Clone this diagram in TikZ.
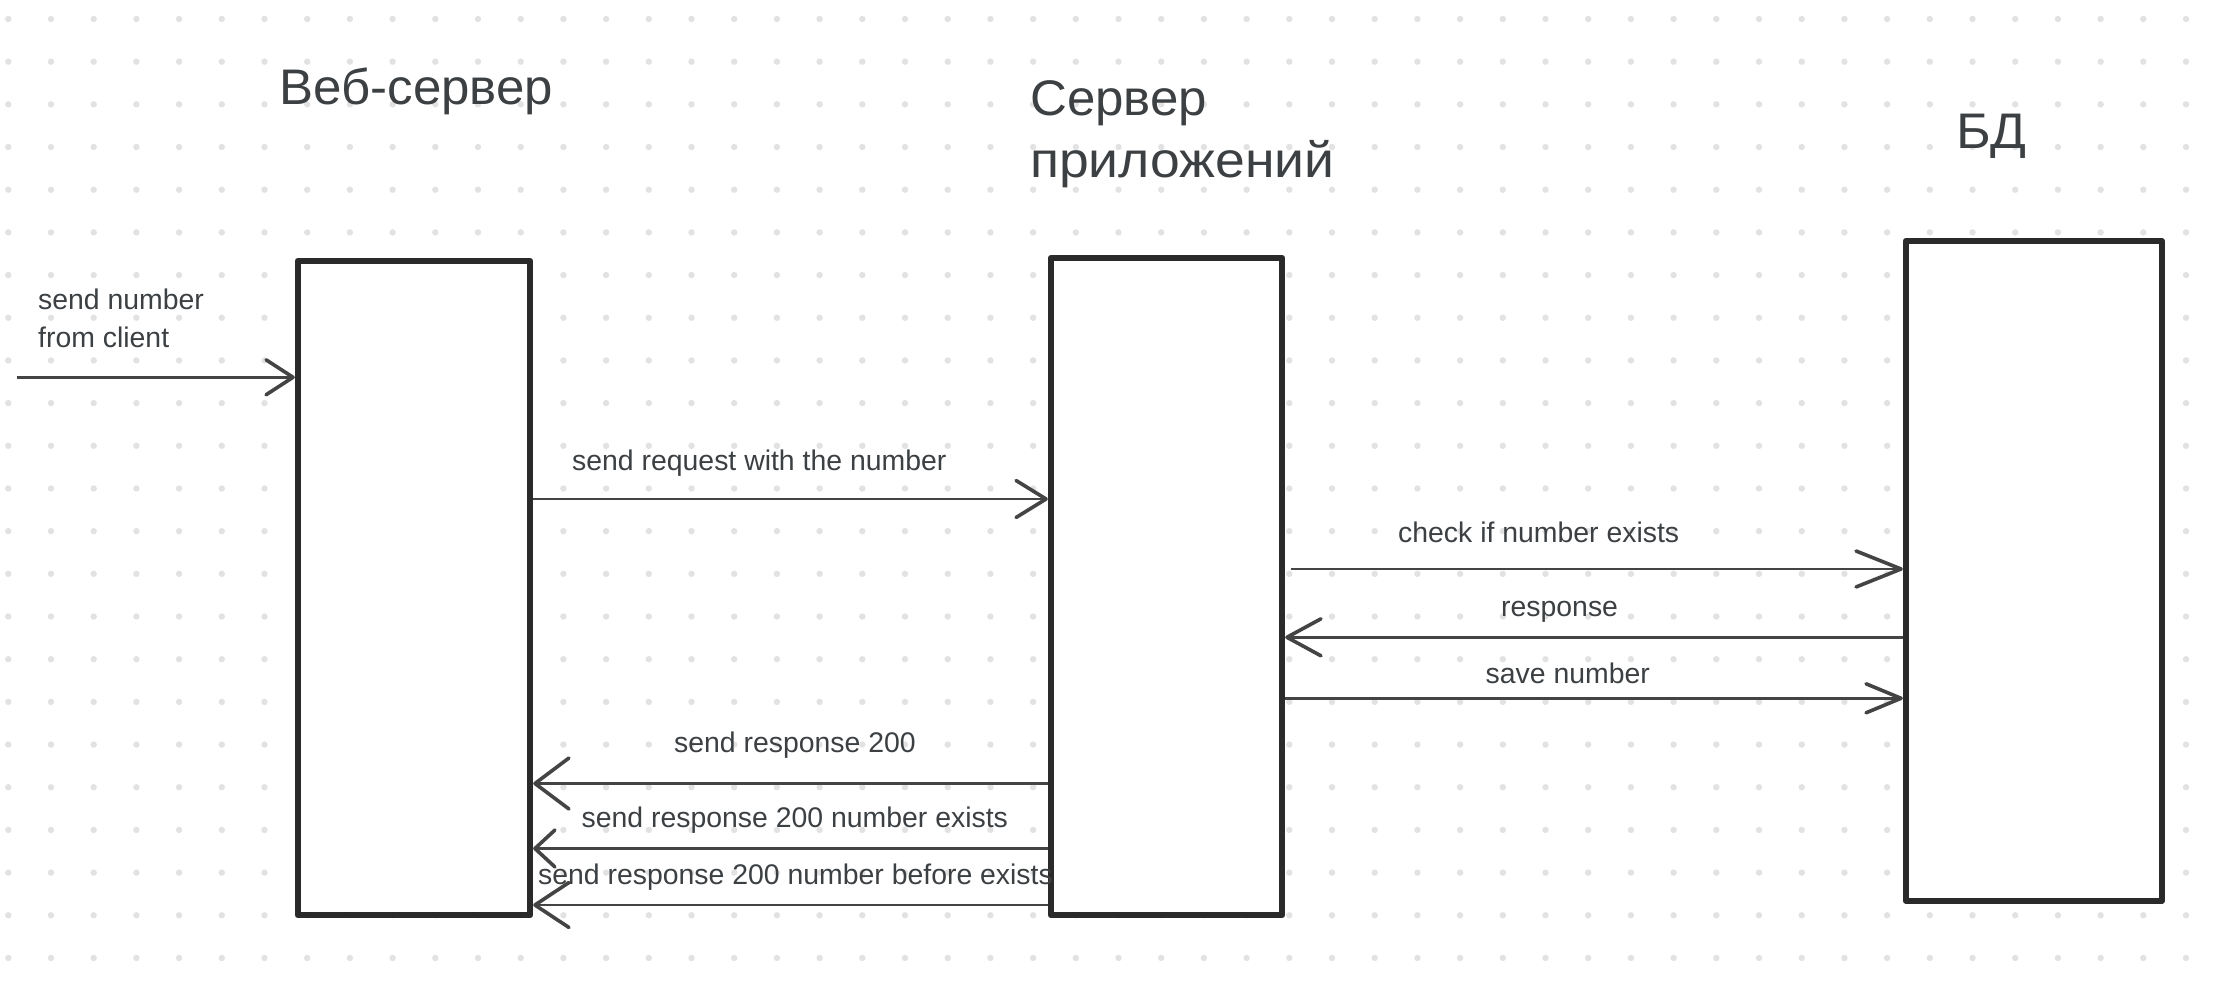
\documentclass[tikz,border=0pt]{standalone}
\usepackage{fontspec}
\setmainfont{Liberation Sans}
\usetikzlibrary{arrows.meta}
\definecolor{txt}{HTML}{3C4043}
\definecolor{boxc}{HTML}{2A2A2A}
\definecolor{arrc}{HTML}{444444}
\definecolor{dotc}{HTML}{E2E2E2}
\begin{document}
\begin{tikzpicture}[x=1pt,y=-1pt,
  lifebox/.style={draw=boxc, line width=6.3pt, fill=white, line join=round, inner sep=0pt},
  msg/.style={draw=arrc, line width=2.7pt},
  tipa/.style 2 args={-{Straight Barb[length=#1pt,width=#2pt,line width=3.6pt,round]}},
  big/.style={font=\fontsize{50}{62}\selectfont, text=txt, inner sep=0pt, anchor=base west},
  small/.style={font=\fontsize{28.4}{38}\selectfont, text=txt, inner sep=0pt, anchor=base west}]
\fill[white] (0,0) rectangle (2224,984);
\useasboundingbox (0,0) rectangle (2224,984);
% dot grid
\foreach \i in {0,...,51}{
  \foreach \j in {0,...,22}{
    \fill[dotc] ({8.3+42.7*\i},{19+42.68*\j}) circle (3.2pt);
  }
}
% lifeline boxes
\node[lifebox, minimum width=232pt, minimum height=654.6pt] (b1) at (414,588) {};
\node[lifebox, minimum width=231pt, minimum height=657.3pt] (b2) at (1166.5,586.65) {};
\node[lifebox, minimum width=255.8pt, minimum height=659.8pt] (b3) at (2033.9,570.9) {};
% free ends
\coordinate (cs) at (16.7,377.3);
\coordinate (c3s) at (1290.7,569);
% messages
\draw[msg,tipa={27}{35}] (cs) -- (b1.west |- cs);
\draw[msg,tipa={30}{37}] (b1.east |- 0,499) -- (b2.west |- 0,499);
\draw[msg,tipa={45}{36}] (c3s) -- (b3.west |- c3s);
\draw[msg,tipa={34}{37}] (b3.west |- 0,637.3) -- (b2.east |- 0,637.3);
\draw[msg,tipa={35}{29}] (b2.east |- 0,698.3) -- (b3.west |- 0,698.3);
\draw[msg,tipa={34}{51}] (b2.west |- 0,783.5) -- (b1.east |- 0,783.5);
\draw[msg,tipa={20}{37}] (b2.west |- 0,848.5) -- (b1.east |- 0,848.5);
\draw[msg,tipa={34}{45}] (b2.west |- 0,905) -- (b1.east |- 0,905);
% titles
\node[big] (tw) at (279.5,104.3) {\scalebox{1.02}[1]{Веб-сервер}};
\node[big] (ta1) at (1030,115.7) {\scalebox{1.02}[1]{Сервер}};
\node[big] (ta2) at (1030,177.7) {\scalebox{1.07}[1]{приложений}};
\node[big] (tdb) at (1956,148.3) {\scalebox{1.06}[1]{БД}};
% labels
\node[small] (l0a) at (38,309.3) {send number};
\node[small] (l0b) at (38,347.3) {from client};
\node[small] (l1) at (572,470) {send request with the number};
\node[small] (l2) at (1398,542.7) {check if number exists};
\node[small] (l3) at (1501,616.7) {response};
\node[small] (l4) at (1485.5,683.3) {save number};
\node[small] (l5) at (674,752.3) {send response 200};
\node[small] (l6) at (581.5,827.3) {send response 200 number exists};
\node[small] (l7) at (538,884) {send response 200 number before exists};
\end{tikzpicture}
\end{document}
